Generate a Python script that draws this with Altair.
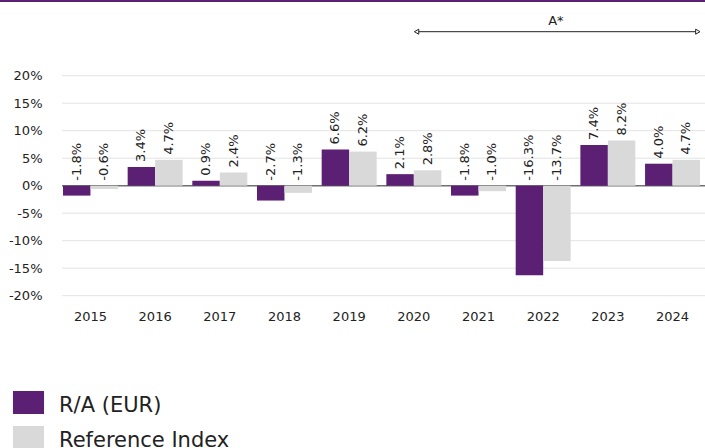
import altair as alt
import pandas as pd

years = ["2015", "2016", "2017", "2018", "2019", "2020", "2021", "2022", "2023", "2024"]
ra_eur = [-1.8, 3.4, 0.9, -2.7, 6.6, 2.1, -1.8, -16.3, 7.4, 4.0]
ref_index = [-0.6, 4.7, 2.4, -1.3, 6.2, 2.8, -1.0, -13.7, 8.2, 4.7]
series_names = ["R/A (EUR)", "Reference Index"]
series_colors = ["#5b1f73", "#d9d9d9"]
y_ticks = [-20, -15, -10, -5, 0, 5, 10, 15, 20]
annotation_text = "A*"
annotation_start = "2020"
annotation_end = "2024"

rows = []
for y, a, b in zip(years, ra_eur, ref_index):
    rows.append({"year": y, "series": series_names[0], "value": a})
    rows.append({"year": y, "series": series_names[1], "value": b})
df = pd.DataFrame(rows)

W, H = 639, 220
FONT = "DejaVu Sans"

xscale = alt.Scale(domain=years, paddingInner=0.15, paddingOuter=0.015)
yscale = alt.Scale(domain=[-20, 20], nice=False, zero=False)
offscale = alt.Scale(domain=series_names, paddingInner=0, paddingOuter=0)

yaxis = alt.Axis(title=None, ticks=False, domain=False, grid=False,
                 values=y_ticks, labelExpr="datum.value + '%'",
                 labelFont=FONT, labelFontSize=13, labelColor="#222",
                 labelPadding=20)

grid = alt.Chart(pd.DataFrame({"v": [t for t in y_ticks if t != 0]})).mark_rule(
    color="#e3e3e3", strokeWidth=1
).encode(
    y=alt.Y("v:Q", scale=yscale, axis=yaxis),
    x=alt.value(0), x2=alt.value(643),
)

bars = alt.Chart(df).mark_bar().encode(
    x=alt.X("year:N", scale=xscale, sort=years,
            axis=alt.Axis(title=None, ticks=False, domain=False, labelAngle=0,
                          labelFont=FONT, labelFontSize=13, labelColor="#222",
                          labelPadding=15)),
    xOffset=alt.XOffset("series:N", scale=offscale, sort=series_names),
    y=alt.Y("value:Q", scale=yscale, axis=yaxis),
    color=alt.Color("series:N", sort=series_names,
                    scale=alt.Scale(domain=series_names, range=series_colors),
                    legend=alt.Legend(title=None, labelLimit=400)),
)

zero = alt.Chart(pd.DataFrame({"v": [0]})).mark_rule(color="#707070", strokeWidth=1.5).encode(
    y=alt.Y("v:Q", scale=yscale, axis=yaxis), x=alt.value(0), x2=alt.value(643),
)

labels = alt.Chart(df).transform_calculate(
    pos="max(datum.value, 0)",
    lab="(datum.value < 0 ? '-' : '') + format(abs(datum.value), '.1f') + '%'",
).mark_text(angle=270, align="left", baseline="middle", dx=5,
            font=FONT, fontSize=13, color="#222").encode(
    x=alt.X("year:N", scale=xscale, sort=years),
    xOffset=alt.XOffset("series:N", scale=offscale, sort=series_names),
    y=alt.Y("pos:Q", scale=yscale, axis=yaxis),
    text="lab:N",
)

ann_df = pd.DataFrame({"start": [annotation_start], "end": [annotation_end], "label": [annotation_text]})

arrow_line = alt.Chart(ann_df).mark_rule(color="#222", strokeWidth=1).encode(
    x=alt.X("start:N", scale=xscale, bandPosition=0.55),
    x2=alt.X2("end:N", bandPosition=0.96),
    y=alt.value(-44),
)
arrow_l = alt.Chart(ann_df).mark_point(shape="triangle-left", filled=True, fill="white",
                                         stroke="#222", strokeWidth=1, size=25, opacity=1).encode(
    x=alt.X("start:N", scale=xscale, bandPosition=0.55), y=alt.value(-44),
)
arrow_r = alt.Chart(ann_df).mark_point(shape="triangle-right", filled=True, fill="white",
                                         stroke="#222", strokeWidth=1, size=25, opacity=1).encode(
    x=alt.X("end:N", scale=xscale, bandPosition=0.96), y=alt.value(-44),
)
ann_text = alt.Chart(pd.DataFrame({"year": ["2022"], "label": [annotation_text]})).mark_text(
    font=FONT, fontSize=13, color="#222", baseline="middle", align="center"
).encode(
    x=alt.X("year:N", scale=xscale, bandPosition=0.73), y=alt.value(-55), text="label:N",
)

top_border = alt.Chart(pd.DataFrame({"v": [0]})).mark_rule(color="#5b1f73", strokeWidth=2).encode(
    x=alt.value(-62), x2=alt.value(643), y=alt.value(-74.7),
)

chart = alt.layer(grid, zero, bars, labels, arrow_line, arrow_l, arrow_r, ann_text, top_border).properties(
    width=W, height=H,
    autosize=alt.AutoSizeParams(type="none"),
    padding={"left": 62, "top": 75.7, "right": 4, "bottom": 152.3},
).configure_view(stroke=None).configure_legend(
    orient="none", legendX=-45, legendY=318.3, direction="vertical",
    labelFont=FONT, labelFontSize=21, labelColor="#222",
    symbolType="M-1.35,-1.26h2.7v2h-2.7z", symbolSize=529, symbolStrokeWidth=0,
    symbolOpacity=1, rowPadding=10, labelOffset=19, padding=0, labelLimit=400,
)

chart.save("out.html", embed_options={"renderer": "svg", "actions": False})
